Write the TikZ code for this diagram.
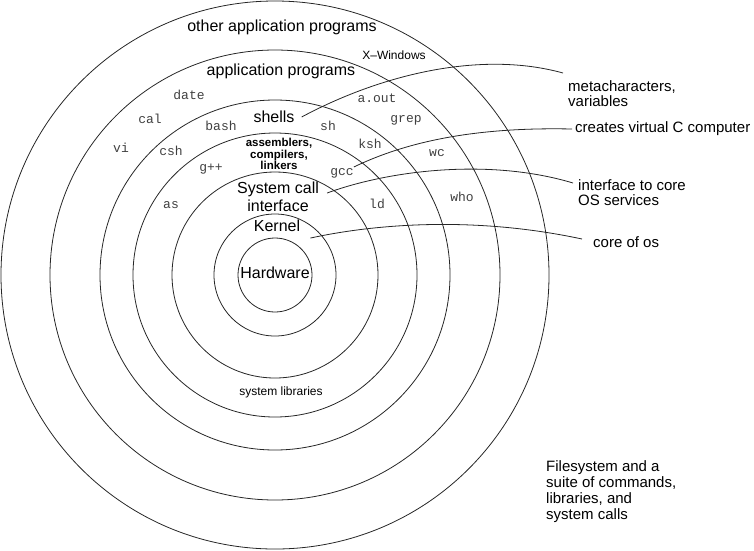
\documentclass[tikz,border=0pt]{standalone}
\usepackage{fontspec}
\setmainfont{Liberation Sans}
\setmonofont{Liberation Mono}
\usepackage{tikz}
\usetikzlibrary{arrows}

\begin{document}
\begin{tikzpicture}[x=1pt,y=-1pt]
	\tikzset{layer/.style={draw=black!85, line width=0.8pt}, big/.style={font=\fontsize{16}{18}\selectfont, inner sep=1pt}, small/.style={font=\fontsize{12}{13}\selectfont, inner sep=1pt}, cmd/.style={font=\ttfamily\fontsize{13}{14}\selectfont, text=black!75, inner sep=1pt}, tools/.style={font=\bfseries\fontsize{11.5}{11.5}\selectfont, align=center, inner sep=1pt}, note/.style={font=\fontsize{15}{15}\selectfont, align=left, anchor=west, inner sep=0pt}}
	\tikzset{link/.style={draw=black!85, line width=0.8pt}}
	\useasboundingbox (0,0) rectangle (754,550);
	\coordinate (c) at (275,275);
	%rings
	\foreach \r in {37,61,103,142,175,225,274}
		\draw[layer] (c) circle [radius=\r];
	%layer names
	\node[big] (other) at (282,27) {other application programs};
	\node[small] (xwin) at (394,55) {X--Windows};
	\node[big] (apps) at (281,71) {application programs};
	\node[big] (shells) at (274,117) {shells};
	\node[tools] (tools) at (279,154) {assemblers,\\compilers,\\linkers};
	\node[big, align=center] (sys) at (278,197) {System call\\interface};
	\node[big] (kern) at (277,226) {Kernel};
	\node[big] (hw) at (275,273) {Hardware};
	\node[small] (libs) at (281,392) {system libraries};
	%commands
	\node[cmd] (date) at (189,95) {date};
	\node[cmd] (cal) at (150,119) {cal};
	\node[cmd] (vi) at (121,148) {vi};
	\node[cmd] (bash) at (221,126) {bash};
	\node[cmd] (sh) at (328,126) {sh};
	\node[cmd] (aout) at (377,98) {a.out};
	\node[cmd] (grep) at (406,120) {grep};
	\node[cmd] (csh) at (171,151) {csh};
	\node[cmd] (ksh) at (370,144) {ksh};
	\node[cmd] (wc) at (437,153) {wc};
	\node[cmd] (gpp) at (211,169) {g++};
	\node[cmd] (gcc) at (342,173) {gcc};
	\node[cmd] (as) at (171,205) {as};
	\node[cmd] (ld) at (377,204) {ld};
	\node[cmd] (who) at (462,197) {who};
	%notes
	\node[note] (meta) at (568,94) {metacharacters,\\variables};
	\node[note] (vcpu) at (575,129) {creates virtual C computer};
	\node[note] (iface) at (578,193) {interface to core\\OS services};
	\node[note] (core) at (593,242) {core of os};
	\node[note, font=\fontsize{15}{16}\selectfont] (fs) at (546,492) {Filesystem and a\\suite of commands,\\libraries, and\\system calls};
	%edges
	\draw[link] ([shift={(6,0)}]shells.east) .. controls (380,75) and (480,50) .. ([shift={(-5,-21)}]meta.west);
	\draw[link] ([shift={(-1,0)}]gcc.north east) .. controls (410,140) and (480,127) .. ([shift={(-3,0)}]vcpu.west);
	\draw[link] ([shift={(7,-4)}]sys.east) .. controls (390,170) and (490,158) .. ([shift={(-5,-10)}]iface.west);
	\draw[link] ([shift={(9,5)}]kern.south east) .. controls (370,225) and (470,215) .. ([shift={(-11,-3)}]core.west);
\end{tikzpicture}
\end{document}
